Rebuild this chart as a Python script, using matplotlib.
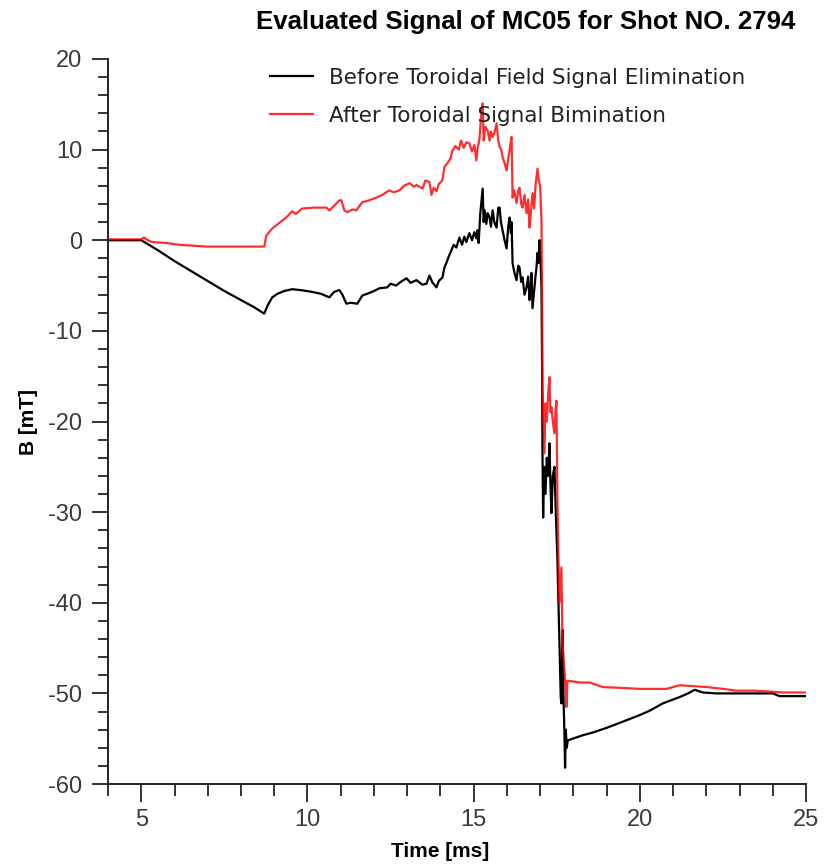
import matplotlib
matplotlib.use("Agg")
import matplotlib.pyplot as plt
from matplotlib.ticker import MultipleLocator

plt.rcParams["axes.unicode_minus"] = False

# Magnetic coil MC05 signal, before and after removing the toroidal field pickup
t_before = [4.0, 5.0, 5.5, 6.0, 6.5, 7.0, 7.5, 8.0, 8.4, 8.7,
            8.8, 8.94, 9.1, 9.3, 9.54, 9.8, 10.14, 10.4, 10.66, 10.8,
            10.96, 11.05, 11.17, 11.3, 11.5, 11.65, 11.8, 12.0, 12.16, 12.4,
            12.5, 12.67, 12.8, 12.98, 13.1, 13.28, 13.45, 13.58, 13.67, 13.75,
            13.88, 13.95, 14.06, 14.12, 14.18, 14.25, 14.33, 14.4, 14.48, 14.57,
            14.65, 14.72, 14.78, 14.87, 14.95, 15.02, 15.08, 15.11, 15.15, 15.2,
            15.27, 15.3, 15.33, 15.38, 15.42, 15.48, 15.52, 15.57, 15.62, 15.69,
            15.74, 15.78, 15.82, 15.87, 15.93, 15.99, 16.04, 16.08, 16.12, 16.14,
            16.17, 16.22, 16.29, 16.34, 16.38, 16.43, 16.47, 16.53, 16.59, 16.64,
            16.68, 16.72, 16.74, 16.77, 16.82, 16.86, 16.89, 16.92, 16.95, 16.98,
            17.02, 17.04, 17.06, 17.07, 17.09, 17.12, 17.16, 17.2, 17.24, 17.28,
            17.31, 17.34, 17.38, 17.43, 17.47, 17.5, 17.52, 17.55, 17.58, 17.6,
            17.62, 17.64, 17.66, 17.68, 17.7, 17.73, 17.75, 17.77, 17.8, 17.83,
            17.97, 18.3, 18.6, 19.0, 19.5, 19.99, 20.3, 20.69, 21.2, 21.45,
            21.65, 21.89, 22.3, 22.8, 23.5, 24.0, 24.2, 25.0]
b_before = [0.0, 0.0, -1.1, -2.3, -3.4, -4.5, -5.6, -6.6, -7.4, -8.1,
            -7.2, -6.3, -5.9, -5.6, -5.4, -5.5, -5.7, -5.9, -6.3, -5.7,
            -5.5, -6.0, -7.0, -6.9, -7.0, -6.1, -5.9, -5.6, -5.3, -5.2,
            -4.8, -5.0, -4.6, -4.2, -4.7, -4.4, -4.9, -4.8, -3.9, -4.6,
            -5.2, -4.5, -4.1, -3.0, -2.5, -1.8, -1.1, -0.5, -0.8, 0.3,
            -0.5, 0.4, -0.2, 0.8, 0.0, 0.9, 0.2, 1.1, -0.3, 3.0,
            5.7, 2.0, 3.3, 1.8, 3.0, 2.5, 1.5, 3.3, 2.0, 1.4,
            3.6, 3.6, 2.0, 1.1, 0.0, -0.9, 1.5, 2.5, 0.8, 2.0,
            -2.5, -3.5, -4.4, -2.8, -3.0, -4.6, -4.1, -6.0, -5.2, -4.0,
            -6.6, -5.0, -3.6, -7.5, -5.5, -4.0, -3.0, -1.4, -2.5, 0.0,
            -3.0, -5.2, -15.0, -23.5, -30.6, -25.0, -28.0, -24.0, -26.0, -22.4,
            -27.0, -30.1, -26.0, -25.0, -30.0, -33.0, -35.3, -40.0, -44.9, -47.5,
            -50.5, -51.1, -47.0, -43.0, -50.0, -54.4, -58.2, -54.0, -56.0, -55.2,
            -55.0, -54.6, -54.3, -53.8, -53.1, -52.4, -51.9, -51.1, -50.4, -50.0,
            -49.6, -49.9, -50.0, -50.0, -50.0, -50.0, -50.3, -50.3]

t_after = [4.0, 5.0, 5.08, 5.2, 5.33, 5.75, 6.14, 6.95, 8.7, 8.76,
           8.94, 9.15, 9.36, 9.54, 9.65, 9.84, 10.2, 10.57, 10.66, 10.8,
           10.96, 11.02, 11.11, 11.2, 11.35, 11.47, 11.65, 11.85, 12.07, 12.25,
           12.46, 12.6, 12.77, 12.9, 13.07, 13.2, 13.28, 13.46, 13.55, 13.67,
           13.73, 13.8, 13.88, 13.95, 14.06, 14.12, 14.21, 14.3, 14.36, 14.45,
           14.55, 14.62, 14.7, 14.78, 14.87, 14.95, 15.02, 15.08, 15.12, 15.17,
           15.22, 15.27, 15.3, 15.35, 15.42, 15.48, 15.52, 15.57, 15.62, 15.69,
           15.74, 15.78, 15.83, 15.87, 15.93, 15.99, 16.04, 16.08, 16.12, 16.14,
           16.17, 16.22, 16.29, 16.34, 16.38, 16.43, 16.47, 16.53, 16.59, 16.64,
           16.68, 16.72, 16.77, 16.82, 16.86, 16.92, 16.96, 17.0, 17.04, 17.06,
           17.07, 17.1, 17.13, 17.16, 17.2, 17.24, 17.28, 17.31, 17.34, 17.38,
           17.43, 17.46, 17.49, 17.52, 17.55, 17.58, 17.61, 17.64, 17.67, 17.7,
           17.73, 17.76, 17.79, 17.82, 18.19, 18.5, 18.88, 19.5, 19.99, 20.8,
           21.2, 21.6, 22.01, 22.5, 22.9, 23.5, 24.3, 25.0]
b_after = [0.1, 0.1, 0.3, 0.0, -0.2, -0.3, -0.5, -0.7, -0.7, 0.5,
           1.3, 1.9, 2.5, 3.2, 2.9, 3.5, 3.6, 3.6, 3.3, 3.8,
           4.4, 4.4, 3.3, 3.1, 3.4, 3.3, 4.2, 4.4, 4.7, 5.0,
           5.5, 5.3, 5.5, 6.0, 6.3, 5.9, 6.1, 5.7, 6.6, 6.4,
           5.0, 5.8, 5.4, 6.2, 6.6, 8.1, 8.5, 9.0, 9.9, 10.4,
           10.0, 11.0, 10.2, 10.8, 10.7, 9.8, 10.5, 8.8, 10.2, 11.0,
           13.5, 15.1, 11.0, 12.5, 12.1, 11.0, 12.0, 11.4, 11.8, 12.9,
           11.0, 10.3, 10.0, 9.2, 8.5, 7.7, 9.0, 9.9, 11.0, 11.4,
           4.7, 5.5, 4.1, 5.5, 5.8, 4.0, 3.6, 5.0, 3.0, 4.5,
           1.4, 3.0, 5.2, 3.5, 6.0, 7.9, 6.5, 6.0, 2.2, -8.0,
           -16.2, -20.0, -23.5, -18.0, -20.0, -17.0, -15.1, -19.0, -18.4, -20.0,
           -21.3, -19.0, -17.7, -28.7, -35.0, -40.0, -38.0, -36.1, -44.2, -46.0,
           -47.5, -49.0, -51.5, -48.6, -48.8, -48.8, -49.3, -49.4, -49.5, -49.5,
           -49.1, -49.2, -49.3, -49.5, -49.7, -49.7, -49.9, -49.9]

series_labels = ["Before Toroidal Field Signal Elimination",
                 "After Toroidal Signal Bimination"]
title_text = "Evaluated Signal of MC05 for Shot NO. 2794"
x_label = "Time [ms]"
y_label = "B [mT]"

sans = ["Liberation Sans", "DejaVu Sans"]
wide = ["DejaVu Sans"]

fig = plt.figure(figsize=(8.31, 8.65), dpi=100)
ax = fig.add_axes([0.130, 0.0936, 0.840, 0.8382])

ax.plot(t_before, b_before, color="black", lw=1.6, label=series_labels[0])
ax.plot(t_after, b_after, color="#ff0000", lw=1.6, alpha=0.82,
        label=series_labels[1])

ax.set_xlim(4, 25)
ax.set_ylim(-60, 20)
ax.xaxis.set_major_locator(MultipleLocator(5))
ax.xaxis.set_minor_locator(MultipleLocator(1))
ax.yaxis.set_major_locator(MultipleLocator(10))
ax.yaxis.set_minor_locator(MultipleLocator(2))

for s in ("top", "right"):
    ax.spines[s].set_visible(False)
for s in ("left", "bottom"):
    ax.spines[s].set_linewidth(1.4)
    ax.spines[s].set_color("#222222")

ax.tick_params(axis="both", which="both", direction="out", color="#333333",
               width=1.4, labelcolor="#3a3a3a")
ax.tick_params(axis="y", which="major", length=11.5, pad=7)
ax.tick_params(axis="y", which="minor", length=7)
ax.tick_params(axis="x", which="major", length=13, pad=5)
ax.tick_params(axis="x", which="minor", length=8.5)
for lab in ax.get_xticklabels() + ax.get_yticklabels():
    lab.set_fontfamily(sans)
    lab.set_fontsize(17)

ax.set_xlabel(x_label, fontfamily=sans, fontweight="bold", fontsize=15)
ax.xaxis.set_label_coords(0.476, -0.080)
ax.set_ylabel(y_label, fontfamily=sans, fontweight="bold", fontsize=15)
ax.yaxis.set_label_coords(-0.100, 0.5)

fig.text(0.633, 0.974, title_text, ha="center", va="center",
         fontfamily=sans, fontweight="bold", fontsize=18.6)

leg = ax.legend(loc="upper left", bbox_to_anchor=(0.232, 0.988),
                frameon=False, prop={"family": wide, "size": 15.5},
                handlelength=2.0, handletextpad=0.75, labelspacing=0.85,
                borderpad=0, borderaxespad=0)
for txt in leg.get_texts():
    txt.set_color("#222222")

fig.savefig("out.png", dpi=100)
